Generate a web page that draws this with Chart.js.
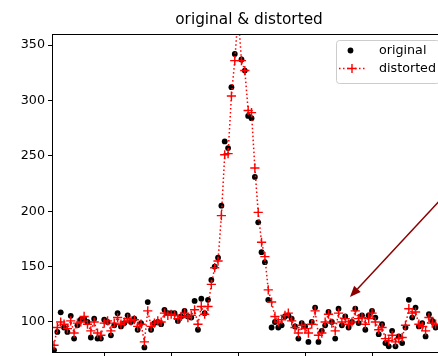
<!DOCTYPE html>
<html>
<head>
<meta charset="utf-8">
<script src="https://cdn.jsdelivr.net/npm/chart.js@4/dist/chart.umd.min.js"></script>
<style>
  html, body { margin: 0; padding: 0; overflow: hidden; background: #fff; }
  #wrap { position: relative; width: 470px; height: 380px; }
</style>
</head>
<body>
<div id="wrap"><canvas id="chart"></canvas></div>
<script>
// sample index (x) and the two series
const xs = [5, 6, 7, 8, 9, 10, 11, 12, 13, 14, 15, 16, 17, 18, 19, 20, 21, 22, 23, 24,
  25, 26, 27, 28, 29, 30, 31, 32, 33, 34, 35, 36, 37, 38, 39, 40, 41, 42, 43, 44,
  45, 46, 47, 48, 49, 50, 51, 52, 53, 54, 55, 56, 57, 58, 59, 60, 61, 62, 63, 64,
  65, 66, 67, 68, 69, 70, 71, 72, 73, 74, 75, 76, 77, 78, 79, 80, 81, 82, 83, 84,
  85, 86, 87, 88, 89, 90, 91, 92, 93, 94, 95, 96, 97, 98, 99, 100, 101, 102, 103, 104,
  105, 106, 107, 108, 109, 110, 111, 112, 113, 114, 115, 116, 117, 118, 119]

const original = [74.5, 91, 108.7, 95, 91, 105.6, 85, 97, 102, 103, 100, 86, 103, 85, 85, 102, 100, 88, 97, 108,
  96, 99, 106, 100, 103, 93, 99, 77, 118, 93, 99, 100, 98, 111, 108, 108, 108, 101, 105, 110,
  105, 104, 119, 93, 121, 108, 120, 138, 150, 158, 205, 263, 257, 312, 342, 372, 337, 327, 286, 284,
  231, 190, 163, 154, 120, 95, 100, 95, 97, 105, 106, 103, 96, 85, 99, 96, 82, 100, 113, 82,
  92, 97, 109, 100, 85, 112, 97, 105, 95, 100, 112, 99, 106, 93, 106, 110, 104, 89, 98, 81,
  78, 92, 78, 87, 81, 95, 120, 104, 113, 96, 99, 87, 107, 101, 95]

const distorted = [79, 95, 100, 98, 94, 101, 90, 99, 100, 105, 98, 92, 100, 90, 88, 99, 101, 92, 99, 104,
  98, 100, 103, 101, 102, 96, 98, 82, 110, 96, 99, 101, 100, 108, 106, 107, 106, 103, 105, 108,
  104, 106, 111, 98, 114, 107, 114, 134, 149, 155, 196, 251, 252, 304, 336, 378, 336, 327, 291, 289,
  239, 199, 172, 159, 129, 118, 105, 100, 102, 106, 108, 101, 95, 90, 97, 94, 90, 98, 110, 88,
  90, 100, 107, 99, 92, 108, 100, 103, 98, 100, 110, 103, 104, 98, 103, 108, 100, 93, 95, 85,
  83, 88, 82, 85, 86, 97, 112, 108, 109, 98, 96, 92, 104, 99, 98]

const yTicks = [100, 150, 200, 250, 300, 350]
const xTicks = [20, 40, 60, 80, 100, 120]

// annotation arrow, in data units
const arrowTip = [93.4, 122.6]
const arrowTail = [126.5, 230]

const FONT = 'DejaVu Sans'

const toPoints = ys => xs.map((x, i) => ({ x: x, y: ys[i] }))

const framePlugin = {
  id: 'frame',
  afterDatasetsDraw(chart) {
    const { ctx, chartArea: a, scales } = chart
    ctx.save()

    // axes box
    ctx.strokeStyle = '#000'
    ctx.lineWidth = 1
    ctx.strokeRect(a.left + 0.5, a.top + 0.5, a.right - a.left - 1, a.bottom - a.top - 1)

    // arrow annotation
    const tx = scales.x.getPixelForValue(arrowTip[0])
    const ty = scales.y.getPixelForValue(arrowTip[1])
    const sx = scales.x.getPixelForValue(arrowTail[0])
    const sy = scales.y.getPixelForValue(arrowTail[1])
    const ang = Math.atan2(ty - sy, tx - sx)
    const headLen = 11
    const headW = 4.5
    const bx = tx - headLen * Math.cos(ang)
    const by = ty - headLen * Math.sin(ang)
    ctx.strokeStyle = '#8b0000'
    ctx.fillStyle = '#8b0000'
    ctx.lineWidth = 1.5
    ctx.beginPath()
    ctx.moveTo(sx, sy)
    ctx.lineTo(bx, by)
    ctx.stroke()
    ctx.beginPath()
    ctx.moveTo(tx, ty)
    ctx.lineTo(bx + headW * Math.sin(ang), by - headW * Math.cos(ang))
    ctx.lineTo(bx - headW * Math.sin(ang), by + headW * Math.cos(ang))
    ctx.closePath()
    ctx.fill()

    // title
    ctx.fillStyle = '#000'
    ctx.font = '15.3px "' + FONT + '"'
    ctx.textAlign = 'center'
    ctx.textBaseline = 'middle'
    ctx.fillText('original & distorted', (a.left + a.right) / 2, 20)

    // legend
    const lx = 336.5, ly = 40.5, lw = 103, lh = 43
    ctx.beginPath()
    ctx.roundRect(lx, ly, lw, lh, 3)
    ctx.fillStyle = 'rgba(255,255,255,0.8)'
    ctx.fill()
    ctx.strokeStyle = '#cccccc'
    ctx.lineWidth = 1
    ctx.stroke()

    ctx.fillStyle = '#000'
    ctx.beginPath()
    ctx.arc(350.5, 50.5, 2.9, 0, Math.PI * 2)
    ctx.fill()

    ctx.strokeStyle = 'red'
    ctx.lineWidth = 1.5
    ctx.setLineDash([1.5, 2.5])
    ctx.beginPath()
    ctx.moveTo(339, 68.5)
    ctx.lineTo(365, 68.5)
    ctx.stroke()
    ctx.setLineDash([])
    ctx.lineWidth = 1.4
    ctx.beginPath()
    ctx.moveTo(347.5, 68.5); ctx.lineTo(356.5, 68.5)
    ctx.moveTo(352, 64); ctx.lineTo(352, 73)
    ctx.stroke()

    ctx.fillStyle = '#000'
    ctx.font = '12.7px "' + FONT + '"'
    ctx.textAlign = 'left'
    ctx.fillText('original', 379, 50.5)
    ctx.fillText('distorted', 379, 68.5)
    ctx.restore()
  }
}

new Chart(document.getElementById('chart'), {
  type: 'line',
  data: {
    datasets: [
      {
        label: 'distorted',
        data: toPoints(distorted),
        borderColor: 'red',
        borderWidth: 1.5,
        borderDash: [1.5, 2.5],
        pointStyle: 'cross',
        pointRadius: 4.6,
        pointBorderColor: 'red',
        pointBorderWidth: 1.4,
        tension: 0,
        clip: 0
      },
      {
        label: 'original',
        data: toPoints(original),
        showLine: false,
        pointStyle: 'circle',
        pointRadius: 2.9,
        pointBackgroundColor: '#000',
        pointBorderWidth: 0,
        clip: 0
      }
    ]
  },
  options: {
    responsive: true,
    maintainAspectRatio: false,
    animation: false,
    layout: { padding: { top: 34, right: 24, left: 0, bottom: 7 } },
    plugins: {
      legend: { display: false },
      title: { display: false },
      tooltip: { enabled: false }
    },
    scales: {
      x: {
        type: 'linear',
        min: 4.4,
        max: 122.1,
        afterBuildTicks: s => { s.ticks = xTicks.map(v => ({ value: v })) },
        afterFit: s => { s.height = 20 },
        ticks: { display: false },
        border: { display: false },
        grid: { drawOnChartArea: false, drawTicks: true, tickLength: 4, color: '#000' }
      },
      y: {
        min: 72,
        max: 360,
        afterBuildTicks: s => { s.ticks = yTicks.map(v => ({ value: v })) },
        afterFit: s => { s.width = 52 },
        ticks: { color: '#000', padding: 3, font: { family: FONT, size: 12.7 } },
        border: { display: false },
        grid: { drawOnChartArea: false, drawTicks: true, tickLength: 4, color: '#000' }
      }
    }
  },
  plugins: [framePlugin]
})
</script>
</body>
</html>
